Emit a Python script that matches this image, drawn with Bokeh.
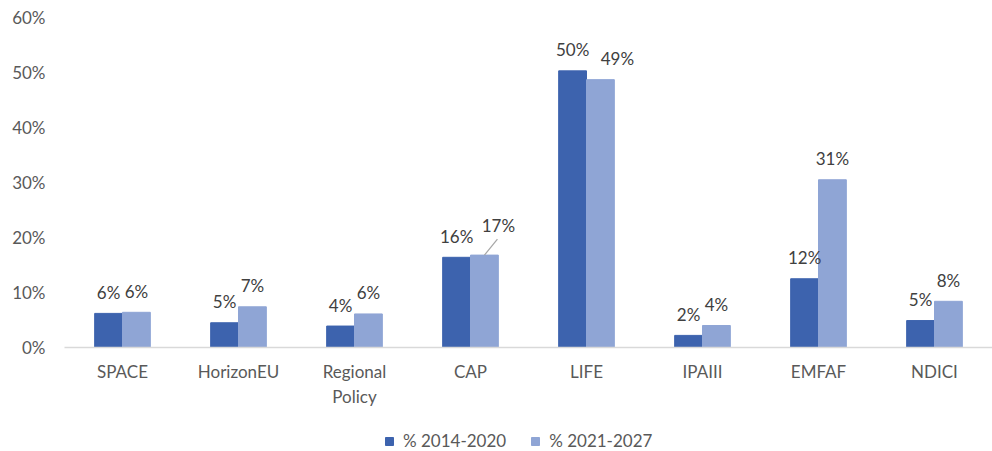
import numpy as np
from bokeh.plotting import figure
from bokeh.layouts import column
from bokeh.models import (Range1d, FixedTicker, NumeralTickFormatter, ColumnDataSource,
                          Legend, LegendItem, LinearAxis)
from bokeh.core.properties import value
from bokeh.embed import file_html
from bokeh.resources import INLINE

# ---- data ----
categories = ["SPACE", "HorizonEU", "Regional\nPolicy", "CAP", "LIFE", "IPAIII", "EMFAF", "NDICI"]
pct_2014_2020 = [0.062, 0.045, 0.039, 0.164, 0.503, 0.022, 0.125, 0.049]
pct_2021_2027 = [0.064, 0.074, 0.061, 0.168, 0.487, 0.040, 0.305, 0.084]
labels_2014_2020 = ["6%", "5%", "4%", "16%", "50%", "2%", "12%", "5%"]
labels_2021_2027 = ["6%", "7%", "6%", "17%", "49%", "4%", "31%", "8%"]
series_names = ["% 2014-2020", "% 2021-2027"]
y_ticks = [0, 0.1, 0.2, 0.3, 0.4, 0.5, 0.6]

# ---- styles ----
DARK = "#3D63AE"
LIGHT = "#8FA5D5"
FONT = "Lato"
BAR_W = 0.24
# per-label pixel offsets for the 2021-2027 labels (Excel manual placement)
light_dx = [0, 0, 0, 14, 17, 0, 0, 0]
light_dy = [-21, -21, -21, -30, -21, -21, -21, -21]

n = len(categories)
centers = np.arange(n) + 0.5

p = figure(frame_width=928, frame_height=330, output_backend="svg", toolbar_location=None,
           x_range=Range1d(0, 8), y_range=Range1d(0, 0.6),
           min_border_left=64, min_border_right=0, min_border_top=17,
           min_border_bottom=70)
p.outline_line_color = None
p.background_fill_color = "white"
p.border_fill_color = "white"
p.xgrid.grid_line_color = None
p.ygrid.grid_line_color = None

src = ColumnDataSource(dict(
    x1=centers - BAR_W / 2, x2=centers + BAR_W / 2,
    v1=pct_2014_2020, v2=pct_2021_2027,
    l1=labels_2014_2020, l2=labels_2021_2027,
    dx2=light_dx, dy2=light_dy,
))

r1 = p.vbar(x="x1", top="v1", width=BAR_W, source=src, fill_color=DARK, line_color=DARK)
r2 = p.vbar(x="x2", top="v2", width=BAR_W, source=src, fill_color=LIGHT, line_color=LIGHT)

# leader line for CAP 17%
i_cap = 3
p.segment(x0=[centers[i_cap] + BAR_W / 2], y0=[pct_2021_2027[i_cap]],
          x1=[centers[i_cap] + BAR_W / 2 + 13 / 116], y1=[pct_2021_2027[i_cap] + 16 / 550],
          line_color="#A6A6A6", line_width=1.2)

p.text(x="x1", y="v1", text="l1", source=src, y_offset=-21,
       text_align="center", text_baseline="middle", text_font=value(FONT),
       text_font_size="17px", text_color="#404040")
p.text(x="x2", y="v2", text="l2", source=src, x_offset="dx2", y_offset="dy2",
       text_align="center", text_baseline="middle", text_font=value(FONT),
       text_font_size="17px", text_color="#404040")

# axes
p.xaxis.ticker = FixedTicker(ticks=list(centers))
p.xaxis.major_label_overrides = {float(c): lab for c, lab in zip(centers, categories)}
p.xaxis.axis_line_color = "#D9D9D9"
p.xaxis.axis_line_width = 1.5
p.xaxis.major_tick_line_color = None
p.xaxis.minor_tick_line_color = None
p.xaxis.major_label_standoff = 7
p.xaxis.major_label_text_font = FONT
p.xaxis.major_label_text_font_size = "17px"
p.xaxis.major_label_text_color = "#595959"

p.yaxis.ticker = FixedTicker(ticks=y_ticks)
p.yaxis.formatter = NumeralTickFormatter(format="0%")
p.yaxis.axis_line_color = None
p.yaxis.major_tick_line_color = None
p.yaxis.minor_tick_line_color = None
p.yaxis.major_label_standoff = 13
p.yaxis.major_label_text_font = FONT
p.yaxis.major_label_text_font_size = "17px"
p.yaxis.major_label_text_color = "#595959"

# blank spacer axis on the outer left, nudging the tick labels toward the frame
pad_axis = LinearAxis(ticker=FixedTicker(ticks=[]), major_tick_out=6, major_tick_in=0,
                      minor_tick_out=0, minor_tick_in=0, major_tick_line_color=None,
                      minor_tick_line_color=None, axis_line_color=None,
                      major_label_standoff=0)
p.add_layout(pad_axis, "left")

# ---- legend strip below the chart ----
lg = figure(width=992, height=34, output_backend="svg", toolbar_location=None,
            x_range=Range1d(100, 101), y_range=Range1d(100, 101),
            min_border_left=0, min_border_right=0, min_border_top=0, min_border_bottom=0)
lg.axis.visible = False
lg.grid.visible = False
lg.outline_line_color = None
lg.border_fill_color = "white"
lg.background_fill_color = "white"
g1 = lg.vbar(x="x1", top="v1", width=BAR_W, source=src, fill_color=DARK, line_color=DARK)
g2 = lg.vbar(x="x2", top="v2", width=BAR_W, source=src, fill_color=LIGHT, line_color=LIGHT)
legend = Legend(items=[LegendItem(label=series_names[0], renderers=[g1]),
                       LegendItem(label=series_names[1], renderers=[g2])],
                orientation="horizontal", location=(320, 0),
                label_text_font=FONT, label_text_font_size="17px",
                label_text_color="#595959", glyph_width=10, glyph_height=10,
                spacing=24, label_standoff=9, padding=2, margin=0,
                border_line_color=None, background_fill_alpha=0)
lg.add_layout(legend, "center")

layout = column(p, lg, spacing=0)
open("out.html", "w").write(file_html(layout, INLINE))
